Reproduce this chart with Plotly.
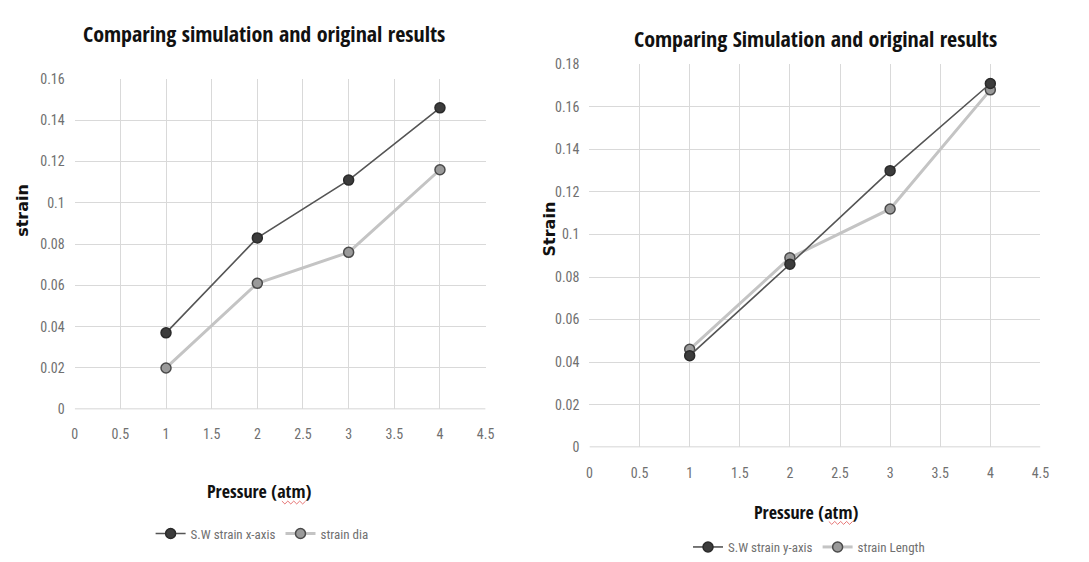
import plotly.graph_objects as go

# Pressure values (atm)
pressure = [1, 2, 3, 4]

# Left chart: strain along x-axis vs. diameter strain
sw_strain_x = [0.037, 0.083, 0.111, 0.146]
strain_dia = [0.020, 0.061, 0.076, 0.116]

# Right chart: strain along y-axis vs. length strain
sw_strain_y = [0.043, 0.086, 0.130, 0.171]
strain_length = [0.046, 0.089, 0.112, 0.168]

W, H = 1089, 562

DARK_LINE = "#555555"
DARK_FILL = "#3c3c3c"
LIGHT_LINE = "#c4c4c4"
LIGHT_FILL = "#9a9a9a"
GRID = "#d9d9d9"
NARROW = "Roboto Condensed, Open Sans, sans-serif"
TICK_FONT = dict(family=NARROW, size=14, color="#707070")
TITLE_FONT = "Open Sans Condensed, Open Sans, sans-serif"


def px_x(p):
    return p / W


def px_y(p):
    return 1 - p / H


fig = go.Figure()


def add_pair(xa, ya, legend, dark_y, dark_name, light_y, light_name):
    fig.add_trace(go.Scatter(
        x=pressure, y=light_y, name=light_name, mode="lines+markers",
        xaxis=xa, yaxis=ya, legend=legend, legendrank=2,
        line=dict(color=LIGHT_LINE, width=3),
        marker=dict(symbol="circle", size=10, color=LIGHT_FILL,
                    line=dict(color="#4a4a4a", width=1.5)),
    ))
    fig.add_trace(go.Scatter(
        x=pressure, y=dark_y, name=dark_name, mode="lines+markers",
        xaxis=xa, yaxis=ya, legend=legend, legendrank=1,
        line=dict(color=DARK_LINE, width=1.6),
        marker=dict(symbol="circle", size=10, color=DARK_FILL,
                    line=dict(color="#2a2a2a", width=1.5)),
    ))


add_pair("x", "y", "legend", sw_strain_x, "S.W strain x-axis", strain_dia, "strain dia")
add_pair("x2", "y2", "legend2", sw_strain_y, "S.W strain y-axis", strain_length, "strain Length")

axis_common = dict(
    showgrid=True, gridcolor=GRID, gridwidth=1,
    zeroline=False, showline=False, tickfont=TICK_FONT,
    ticks="", fixedrange=True,
)

legend_common = dict(
    orientation="h", xanchor="center", yanchor="middle",
    font=dict(family=NARROW, size=13, color="#707070"),
    itemwidth=30, traceorder="normal", bgcolor="rgba(0,0,0,0)",
)

fig.update_layout(
    width=W, height=H,
    margin=dict(l=0, r=0, t=0, b=0),
    paper_bgcolor="white", plot_bgcolor="white",
    showlegend=True,
    xaxis=dict(domain=[px_x(72.5), px_x(488)], range=[0, 4.5], dtick=0.5,
               anchor="y", ticklabelstandoff=15, **axis_common),
    yaxis=dict(domain=[px_y(413), px_y(73)], range=[0, 0.16], dtick=0.02,
               anchor="x", ticklabelstandoff=9, **axis_common),
    xaxis2=dict(domain=[px_x(593), px_x(1049)], range=[0, 4.5], dtick=0.5,
                anchor="y2", ticklabelstandoff=16, **axis_common),
    yaxis2=dict(domain=[px_y(452), px_y(58)], range=[0, 0.18], dtick=0.02,
                anchor="x2", ticklabelstandoff=9, **axis_common),
    legend=dict(x=px_x(262), y=px_y(541), **legend_common),
    legend2=dict(x=px_x(815), y=px_y(555), **legend_common),
)

# Bottom axis baseline a little darker than the grid
for xa, ya in (("x", "y"), ("x2", "y2")):
    fig.add_shape(type="line", xref=xa, yref=ya, x0=0, x1=4.5, y0=0, y1=0,
                  line=dict(color="#c8c8c8", width=1.5), layer="below")


# Red proofing squiggle under the word "atm" in the axis titles
def squiggle(x0, x1, y, amp=1.5, step=3.0):
    pts, x, up = [], x0, True
    while x <= x1:
        pts.append(f"{px_x(x):.5f},{px_y(y - amp if up else y + amp):.5f}")
        x += step
        up = not up
    return "M" + " L".join(pts)


for sx0, sx1, sy in ((282, 308, 509), (835, 861, 530)):
    fig.add_shape(type="path", xref="paper", yref="paper", path=squiggle(sx0, sx1, sy),
                  line=dict(color="rgba(220,60,60,0.7)", width=1))

annotations = [
    dict(text="<b>Comparing simulation and original results</b>", x=px_x(264), y=px_y(26),
         font=dict(family=TITLE_FONT, size=22, color="#111111")),
    dict(text="<b>Comparing Simulation and original results</b>", x=px_x(822), y=px_y(31),
         font=dict(family=TITLE_FONT, size=22, color="#111111")),
    dict(text="<b>strain</b>", x=px_x(19), y=px_y(208), textangle=-90,
         font=dict(family="DejaVu Sans, sans-serif", size=16, color="#111111")),
    dict(text="<b>Strain</b>", x=px_x(553), y=px_y(227), textangle=-90,
         font=dict(family="DejaVu Sans, sans-serif", size=16, color="#111111")),
    dict(text="<b>Pressure (atm)</b>", x=px_x(259), y=px_y(497),
         font=dict(family=TITLE_FONT, size=18, color="#111111")),
    dict(text="<b>Pressure (atm)</b>", x=px_x(812), y=px_y(519),
         font=dict(family=TITLE_FONT, size=18, color="#111111")),
]
for a in annotations:
    fig.add_annotation(xref="paper", yref="paper", showarrow=False,
                       xanchor="center", yanchor="middle", **a)

fig.write_html("out.html")
